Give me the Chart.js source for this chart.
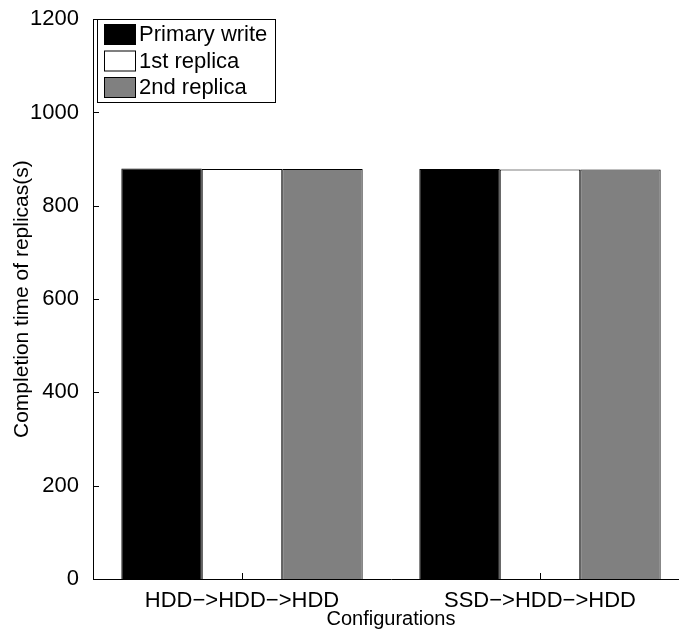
<!DOCTYPE html>
<html>
<head>
<meta charset="utf-8">
<script src="https://cdn.jsdelivr.net/npm/chart.js@4.4.0/dist/chart.umd.min.js"></script>
<style>
    html, body { margin: 0; padding: 0; background: #fff; overflow: hidden; }
</style>
</head>
<body>
<canvas id="bar-chart" width="720" height="631"></canvas>
<script>
// data
var configurations = ["HDD\u2212>HDD\u2212>HDD", "SSD\u2212>HDD\u2212>HDD"];
var seriesNames = ["Primary write", "1st replica", "2nd replica"];
var primaryWrite = [880, 879];
var firstReplica = [879, 878];
var secondReplica = [879, 878];
var yTicks = [0, 200, 400, 600, 800, 1000, 1200];

var fontName = "'Liberation Sans', Arial, Helvetica, sans-serif";

// MATLAB style ticks pointing into the plot
var innerTicks = {
    id: "innerTicks",
    afterDraw: function (chart) {
        var ctx = chart.ctx;
        var area = chart.chartArea;
        var x = chart.scales.x, y = chart.scales.y;
        ctx.save();
        ctx.strokeStyle = "#000";
        ctx.lineWidth = 1;
        ctx.beginPath();
        yTicks.forEach(function (v) {
            var py = Math.round(y.getPixelForValue(v)) + 0.5;
            ctx.moveTo(area.left, py);
            ctx.lineTo(area.left + 6, py);
        });
        configurations.forEach(function (c, i) {
            var px = Math.round(x.getPixelForValue(i)) + 0.5;
            ctx.moveTo(px, area.bottom);
            ctx.lineTo(px, area.bottom - 6);
        });
        ctx.stroke();
        ctx.restore();
    }
};

// boxed legend inside the top left corner
var boxLegend = {
    id: "boxLegend",
    afterDraw: function (chart) {
        var ctx = chart.ctx;
        var sets = chart.data.datasets;
        ctx.save();
        ctx.fillStyle = "#fff";
        ctx.fillRect(97, 19, 179, 84);
        ctx.strokeStyle = "#000";
        ctx.lineWidth = 1;
        ctx.strokeRect(97.5, 19.5, 178, 83);
        ctx.font = "22px " + fontName;
        ctx.textBaseline = "middle";
        ctx.textAlign = "left";
        sets.forEach(function (ds, i) {
            var top = 24 + i * 26.5;
            ctx.fillStyle = ds.backgroundColor;
            ctx.fillRect(104, top, 32, 21);
            ctx.strokeStyle = "#000";
            ctx.strokeRect(104.5, top + 0.5, 31, 20);
            ctx.fillStyle = "#000";
            ctx.fillText(ds.label, 139, top + 11);
        });
        ctx.restore();
    }
};

var ctx = document.getElementById("bar-chart").getContext("2d");

var config = {
    type: "bar",
    data: {
        labels: configurations,
        datasets: [
            {
                label: seriesNames[0],
                data: primaryWrite,
                backgroundColor: "#000000",
                borderColor: "#000000",
                borderWidth: 1,
            },
            {
                label: seriesNames[1],
                data: firstReplica,
                backgroundColor: "#ffffff",
                borderColor: "#000000",
                borderWidth: 1,
            },
            {
                label: seriesNames[2],
                data: secondReplica,
                backgroundColor: "#808080",
                borderColor: "#000000",
                borderWidth: 1,
            },
        ],
    },
    options: {
        responsive: false,
        animation: false,
        devicePixelRatio: 1,
        categoryPercentage: 0.81,
        barPercentage: 1,
        layout: {
            padding: { left: 0, top: 14, right: 31, bottom: 0 },
        },
        plugins: {
            legend: { display: false },
            tooltip: { enabled: false },
        },
        scales: {
            x: {
                offset: true,
                grid: { display: false },
                border: { display: true, color: "#000", width: 1 },
                ticks: {
                    color: "#000",
                    padding: 1,
                    maxRotation: 0,
                    font: { family: fontName, size: 22 },
                },
                title: {
                    display: true,
                    text: "Configurations",
                    color: "#000",
                    padding: { top: 1, bottom: 0 },
                    font: { family: fontName, size: 20 },
                },
                afterFit: function (scale) {
                    scale.height = 52;
                },
            },
            y: {
                min: 0,
                max: 1200,
                grid: { display: false },
                border: { display: true, color: "#000", width: 1 },
                afterBuildTicks: function (scale) {
                    scale.ticks = yTicks.map(function (v) { return { value: v }; });
                },
                ticks: {
                    color: "#000",
                    padding: 6,
                    font: { family: fontName, size: 22 },
                    callback: function (value) {
                        return String(value);
                    },
                },
                title: {
                    display: true,
                    text: "Completion time of replicas(s)",
                    color: "#000",
                    padding: { top: 10, bottom: 0 },
                    font: { family: fontName, size: 21 },
                },
                afterFit: function (scale) {
                    scale.width = 93;
                },
            },
        },
    },
    plugins: [innerTicks, boxLegend],
};

var barChart = new Chart(ctx, config);
</script>
</body>
</html>
